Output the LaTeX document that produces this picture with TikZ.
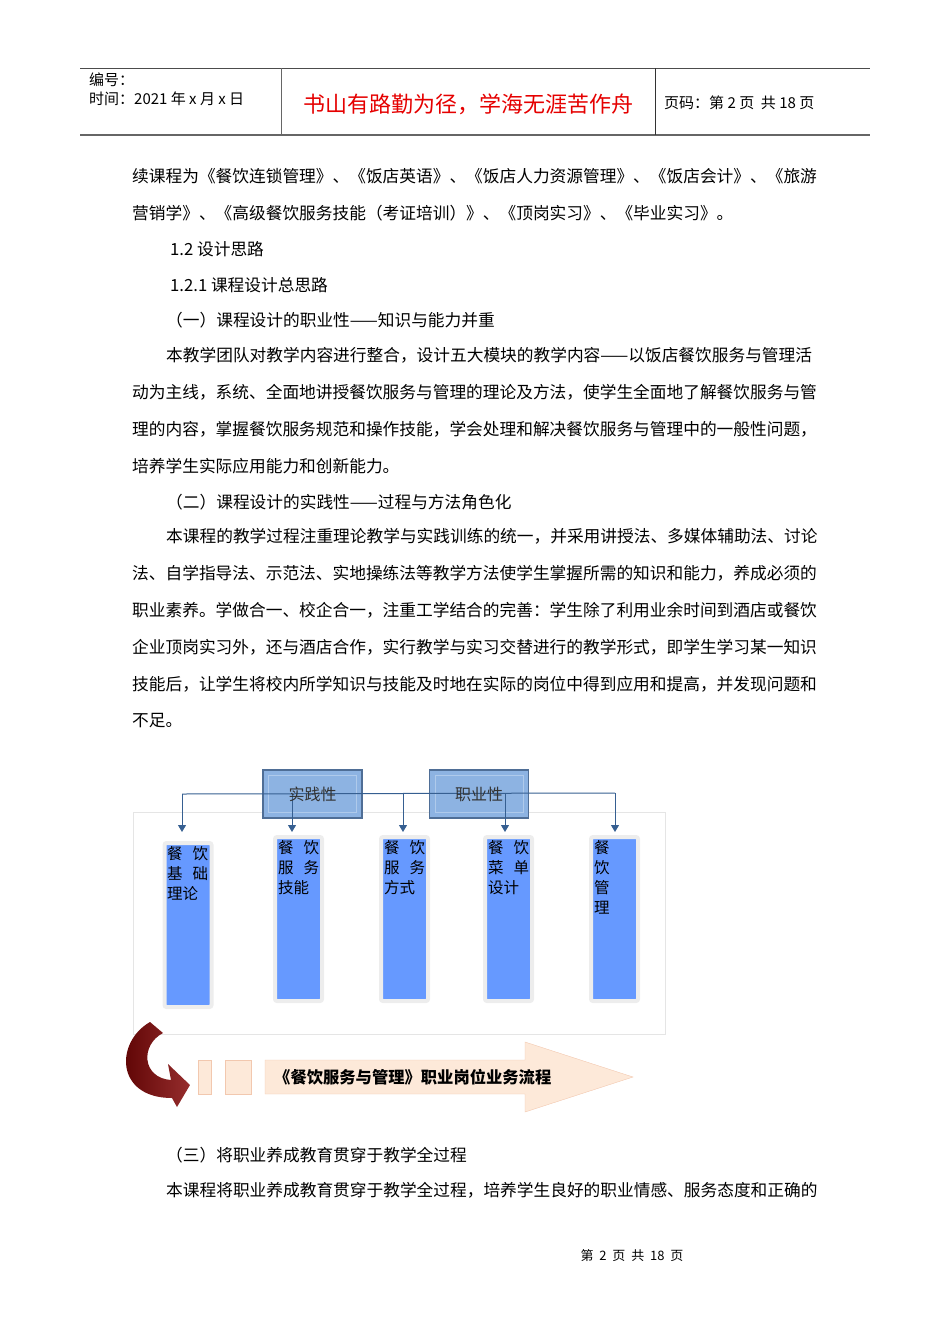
\documentclass[tikz,border=0pt]{standalone}
\usepackage{fontspec}
\setmainfont{Noto Sans CJK SC}
\usetikzlibrary{arrows.meta,calc}
\definecolor{lnblue}{RGB}{54,95,145}
\definecolor{boxfill}{RGB}{141,179,226}
\definecolor{boxdraw}{RGB}{79,110,150}
\definecolor{colfill}{RGB}{102,153,255}
\definecolor{peach}{RGB}{253,233,217}
\definecolor{peachdraw}{RGB}{242,200,175}
\definecolor{darkred}{RGB}{150,45,45}
\begin{document}
\begin{tikzpicture}[x=1pt,y=-1pt,
  body/.style={anchor=west,inner sep=0,font=\fontsize{16.7}{18}\selectfont},
  col/.style={draw=black!7,line width=4pt,fill=colfill,rounded corners=2pt,minimum width=47,inner sep=0},
  coltext/.style={anchor=north west,inner sep=0,align=left,font=\fontsize{15.5}{20}\selectfont},
  topbox/.style={draw=boxdraw,fill=boxfill,minimum width=99,minimum height=48,inner sep=0,line width=1.2pt},
  bevel/.style={draw=boxfill!70!white,line width=.6pt},
  ln/.style={draw=lnblue,line width=1pt},
  arr/.style={ln,-{Triangle[width=8,length=7]}}]
\useasboundingbox (0,0) rectangle (950,1344);
% header
\draw[black!70,line width=1pt] (80,68) -- (870,68);
\draw[black!60,line width=1.4pt] (80,135) -- (870,135);
\draw[black!60,line width=1pt] (281,68) -- (281,135);
\draw[black!80,line width=.8pt] (655,68) -- (655,135);
\node[anchor=west,inner sep=0,font=\fontsize{15}{16}\selectfont] (h1) at (89,80) {编号：};
\node[anchor=west,inner sep=0,font=\fontsize{15}{16}\selectfont] (h2) at (89,99) {时间：2021 年 x 月 x 日};
\node[inner sep=0,text=red!90!black,font=\fontsize{22}{24}\selectfont] (h3) at (468,104) {书山有路勤为径，学海无涯苦作舟};
\node[anchor=west,inner sep=0,font=\fontsize{15}{16}\selectfont] (h4) at (664,103) {页码：第 2 页\ \ 共 18 页};
% body
\node[body] (l1) at (132,176) {续课程为《餐饮连锁管理》、《饭店英语》、《饭店人力资源管理》、《饭店会计》、《旅游};
\node[body] (l2) at (132,213) {营销学》、《高级餐饮服务技能（考证培训）》、《顶岗实习》、《毕业实习》。};
\node[body] (l3) at (170,249) {1.2 设计思路};
\node[body] (l4) at (170,285) {1.2.1 课程设计总思路};
\node[body] (l5) at (166,320) {（一）课程设计的职业性——知识与能力并重};
\node[body] (l6) at (166,355) {本教学团队对教学内容进行整合，设计五大模块的教学内容——以饭店餐饮服务与管理活};
\node[body] (l7) at (132,392) {动为主线，系统、全面地讲授餐饮服务与管理的理论及方法，使学生全面地了解餐饮服务与管};
\node[body] (l8) at (132,429) {理的内容，掌握餐饮服务规范和操作技能，学会处理和解决餐饮服务与管理中的一般性问题，};
\node[body] (l9) at (132,466) {培养学生实际应用能力和创新能力。};
\node[body] (l10) at (166,502) {（二）课程设计的实践性——过程与方法角色化};
\node[body] (l11) at (166,536) {本课程的教学过程注重理论教学与实践训练的统一，并采用讲授法、多媒体辅助法、讨论};
\node[body] (l12) at (132,573) {法、自学指导法、示范法、实地操练法等教学方法使学生掌握所需的知识和能力，养成必须的};
\node[body] (l13) at (132,610) {职业素养。学做合一、校企合一，注重工学结合的完善：学生除了利用业余时间到酒店或餐饮};
\node[body] (l14) at (132,647) {企业顶岗实习外，还与酒店合作，实行教学与实习交替进行的教学形式，即学生学习某一知识};
\node[body] (l15) at (132,684) {技能后，让学生将校内所学知识与技能及时地在实际的岗位中得到应用和提高，并发现问题和};
\node[body] (l16) at (132,721) {不足。};
\node[body] (l17) at (166,1155) {（三）将职业养成教育贯穿于教学全过程};
\node[body] (l18) at (166,1190) {本课程将职业养成教育贯穿于教学全过程，培养学生良好的职业情感、服务态度和正确的};
\node[inner sep=0,font=\fontsize{13}{14}\selectfont] (ft) at (632,1256) {第\ \ 2\ \ 页\ \ 共\ \ 18\ \ 页};
% diagram
\draw[black!10] (133,812) rectangle (665,1034);
\node[topbox] (sj) at (312.5,794) {};
\node[topbox] (zy) at (479,794) {};
\draw[bevel] ($(sj.north west)+(6,6)$) rectangle ($(sj.south east)+(-6,-6)$);
\draw[bevel] ($(zy.north west)+(6,6)$) rectangle ($(zy.south east)+(-6,-6)$);
\node[col,minimum height=164] (ca) at (188,925) {};
\node[col,minimum height=164] (cb) at (298.5,919) {};
\node[col,minimum height=164] (cc) at (404.5,919) {};
\node[col,minimum height=164] (cd) at (508.5,919) {};
\node[col,minimum height=164] (ce) at (614.5,919) {};
\node[coltext] (ta) at (167,846) {餐\hspace{10pt}饮\\基\hspace{10pt}础\\理论};
\node[coltext] (tb) at (278,840) {餐\hspace{10pt}饮\\服\hspace{10pt}务\\技能};
\node[coltext] (tc) at (384,840) {餐\hspace{10pt}饮\\服\hspace{10pt}务\\方式};
\node[coltext] (td) at (488,840) {餐\hspace{10pt}饮\\菜\hspace{10pt}单\\设计};
\node[coltext] (te) at (594,840) {餐\\饮\\管\\理};
\coordinate (la) at (182,794);
\coordinate (le) at (615,793);
\draw[ln] (la) -- (le);
\draw[arr] (la) -- (182,832);
\draw[arr] (292,794) -- (292,832);
\draw[arr] (403,794) -- (403,832);
\draw[arr] (505,794) -- (505,832);
\draw[arr] (le) -- (615,832);
\node[inner sep=0,font=\fontsize{16}{18}\selectfont,text=black!80] (sjt) at (sj) {实践性};
\node[inner sep=0,font=\fontsize{16}{18}\selectfont,text=black!80] (zyt) at (zy) {职业性};
% process arrow
\node[draw=peachdraw,fill=peach,minimum width=13,minimum height=34,inner sep=0] (s1) at (204.5,1077) {};
\node[draw=peachdraw,fill=peach,minimum width=26,minimum height=34,inner sep=0] (s2) at (238,1077) {};
\draw[draw=peachdraw,fill=peach] (265,1060) -- (525,1060) -- (525,1042) -- (633,1077) -- (525,1112) -- (525,1094) -- (265,1094) -- cycle;
\node[anchor=west,inner sep=0,font=\bfseries\fontsize{16.3}{18}\selectfont] (pt) at (274,1077) {《餐饮服务与管理》职业岗位业务流程};
% curved arrow
\shade[left color=red!35!black,right color=darkred] (150,1022) .. controls (115,1042) and (115,1098) .. (172,1098) -- (177,1107) -- (190,1085) -- (168,1064) -- (171,1080) .. controls (142,1078) and (140,1045) .. (163,1033) -- cycle;
\end{tikzpicture}
\end{document}
